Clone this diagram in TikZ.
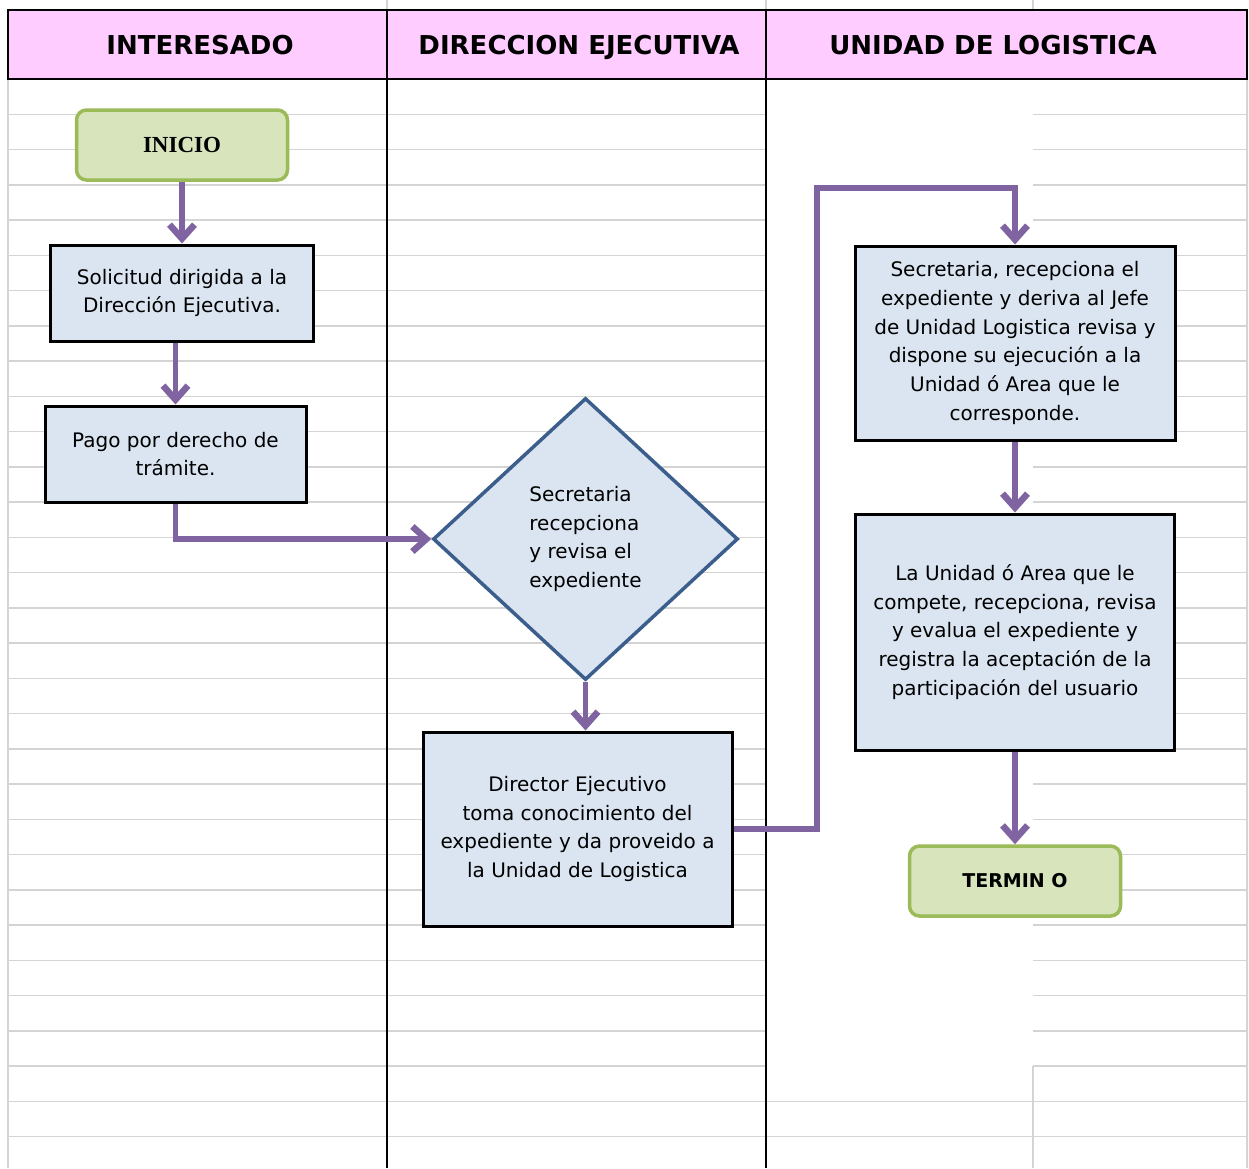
\documentclass[tikz,border=0pt]{standalone}
\usepackage{fontspec}
\setmainfont{DejaVu Sans}
\newfontfamily\inifont{Liberation Serif}
\usetikzlibrary{arrows.meta,shapes.geometric,calc}
\definecolor{hdrpink}{HTML}{FFCCFF}
\definecolor{boxblue}{HTML}{DBE5F1}
\definecolor{flowpurple}{HTML}{8064A2}
\definecolor{dianavy}{HTML}{3B5E8C}
\definecolor{termgreen}{HTML}{D7E4BC}
\definecolor{termedge}{HTML}{9BBB59}
\definecolor{gridgray}{HTML}{D4D4D4}

\begin{document}
\begin{tikzpicture}[x=1pt,y=-1pt,every node/.style={font=\fontsize{20}{28.7}\selectfont},
 box/.style={draw=black,line width=3pt,fill=boxblue,inner sep=0pt,align=center},
 term/.style={draw=termedge,line width=3.5pt,fill=termgreen,rounded corners=10pt,minimum width=211pt,minimum height=70pt},
 dia/.style={diamond,draw=dianavy,line width=3.5pt,fill=boxblue,inner sep=0pt,align=left},
 hdr/.style={font=\fontsize{26}{30}\selectfont\bfseries,anchor=base},
 arr/.style={-{Straight Barb[length=14pt,width=25pt,line width=6.5pt]},line width=5.5pt,draw=flowpurple},
 gridline/.style={draw=gridgray,line width=1.5pt}]
\useasboundingbox (0,0) rectangle (1249,1168);
\fill[hdrpink] (8,10) rectangle (1247,79);
\foreach \k in {1,...,30} \draw[gridline] (8,{79+35.25*\k}) -- (766,{79+35.25*\k});
\foreach \k in {1,...,28} \draw[gridline] (1033,{79+35.25*\k}) -- (1247,{79+35.25*\k});
\foreach \k in {29,30} \draw[gridline] (766,{79+35.25*\k}) -- (1247,{79+35.25*\k});
\draw[gridline] (1033,1066) -- (1033,1168) (8,79) -- (8,1168) (1247,79) -- (1247,1168);
\draw[gridline] (387,0) -- (387,10) (766,0) -- (766,10) (1033,0) -- (1033,10);
\draw[line width=1.5pt] (8,10) rectangle (1247,79) (387,10) -- (387,1168) (766,10) -- (766,1168);
\node[hdr] (h1) at (200,54) {INTERESADO};
\node[hdr] (h2) at (579,54) {DIRECCION EJECUTIVA};
\node[hdr] (h3) at (993,54) {UNIDAD DE LOGISTICA};
\node[term,font=\inifont\fontsize{23}{26}\selectfont\bfseries] (ini) at (182,145) {INICIO};
\node[box,minimum width=263pt,minimum height=96pt] (sol) at (182,293) {Solicitud dirigida a la\\Dirección Ejecutiva.};
\node[box,minimum width=261pt,minimum height=96pt] (pago) at (175.5,454) {Pago por derecho de\\trámite.};
\node[dia,minimum width=305pt,minimum height=282pt] (secdir) at (585.5,539) {Secretaria\\recepciona\\y revisa el\\expediente};
\node[box,minimum width=309pt,minimum height=194pt] (dir) at (577.5,829) {Director Ejecutivo\\toma conocimiento del\\expediente y da proveido a\\la Unidad de Logistica};
\node[box,minimum width=320pt,minimum height=194pt] (seclog) at (1015,343) {Secretaria, recepciona el\\expediente y deriva al Jefe\\de Unidad Logistica revisa y\\dispone su ejecución a la\\Unidad ó Area que le\\corresponde.};
\node[box,minimum width=319pt,minimum height=236pt] (uni) at (1015,632) {La Unidad ó Area que le\\compete, recepciona, revisa\\y evalua el expediente y\\registra la aceptación de la\\participación del usuario};
\node[term,font=\fontsize{19}{22}\selectfont\bfseries] (fin) at (1015,881) {TERMIN O};
\coordinate (bend) at (817,188);
\draw[arr] (ini) -- (sol);
\draw[arr] (sol.south -| pago.north) -- (pago);
\draw[arr] (pago.south) |- (secdir.west);
\draw[arr] (secdir.south) -- (secdir.south |- dir.north);
\draw[arr] (dir.east) -| (bend) -| (seclog.north);
\draw[arr] (seclog) -- (uni);
\draw[arr] (uni) -- (fin);
\end{tikzpicture}
\end{document}
